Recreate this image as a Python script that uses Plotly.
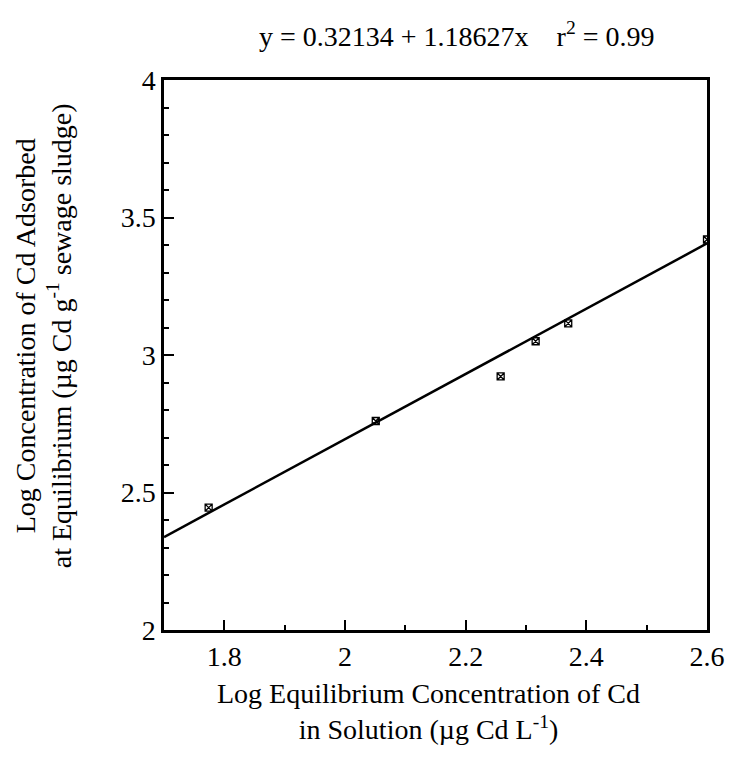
import plotly.graph_objects as go

# Data
log_ce = [1.774, 2.051, 2.258, 2.316, 2.370, 2.600]
log_qe = [2.445, 2.760, 2.922, 3.050, 3.115, 3.420]
intercept = 0.32134
slope = 1.18627
fit_x = [1.7, 2.6]
fit_y = [intercept + slope * x for x in fit_x]

x_ticks = [1.8, 2.0, 2.2, 2.4, 2.6]
x_ticklabels = ["1.8", "2", "2.2", "2.4", "2.6"]
y_ticks = [2.0, 2.5, 3.0, 3.5, 4.0]
y_ticklabels = ["2", "2.5", "3", "3.5", "4"]

FONT = "Liberation Serif, Times New Roman, serif"
FS = 28

fig = go.Figure()
fig.add_trace(go.Scatter(x=fit_x, y=fit_y, mode="lines",
                         line=dict(color="black", width=2.5),
                         showlegend=False, hoverinfo="skip"))
fig.add_trace(go.Scatter(x=log_ce, y=log_qe, mode="markers",
                         marker=dict(symbol="square-x-open", size=7,
                                     color="black", line=dict(width=1.3)),
                         showlegend=False))

fig.update_layout(
    width=737, height=767,
    margin=dict(l=164, r=18, t=80, b=137),
    paper_bgcolor="white", plot_bgcolor="white",
    font=dict(family=FONT, size=FS, color="black"),
    xaxis=dict(range=[1.7, 2.6], tickvals=x_ticks, ticktext=x_ticklabels,
               ticks="inside", ticklen=10, tickwidth=2, tickcolor="black",
               minor=dict(dtick=0.1, tick0=1.7, ticks="inside", ticklen=5,
                          tickwidth=1.5, tickcolor="black", showgrid=False),
               showline=True, linecolor="black", linewidth=2.5, mirror=True,
               showgrid=False, zeroline=False, tickfont=dict(size=FS)),
    yaxis=dict(range=[2, 4], tickvals=y_ticks, ticktext=y_ticklabels,
               ticks="inside", ticklen=10, tickwidth=2, tickcolor="black",
               minor=dict(dtick=0.1, tick0=2.0, ticks="inside", ticklen=5,
                          tickwidth=1.5, tickcolor="black", showgrid=False),
               showline=True, linecolor="black", linewidth=2.5, mirror=True,
               showgrid=False, zeroline=False, tickfont=dict(size=FS)),
    annotations=[
        dict(text="y = 0.32134 + 1.18627x    r<sup>2</sup> = 0.99",
             xref="paper", yref="paper", x=0.539, y=1.082,
             xanchor="center", yanchor="middle", showarrow=False,
             font=dict(size=FS)),
        dict(text="Log Equilibrium Concentration of Cd<br>in Solution (µg Cd L<sup>-1</sup>)",
             xref="paper", yref="paper", x=0.488, y=-0.148,
             xanchor="center", yanchor="middle", showarrow=False,
             font=dict(size=FS)),
        dict(text="Log Concentration of Cd Adsorbed<br>at Equilibrium (µg Cd g<sup>-1</sup> sewage sludge)",
             xref="paper", yref="paper", x=-0.222, y=0.535, textangle=-90,
             xanchor="center", yanchor="middle", showarrow=False,
             font=dict(size=FS)),
    ],
)

fig.write_html("out.html")
